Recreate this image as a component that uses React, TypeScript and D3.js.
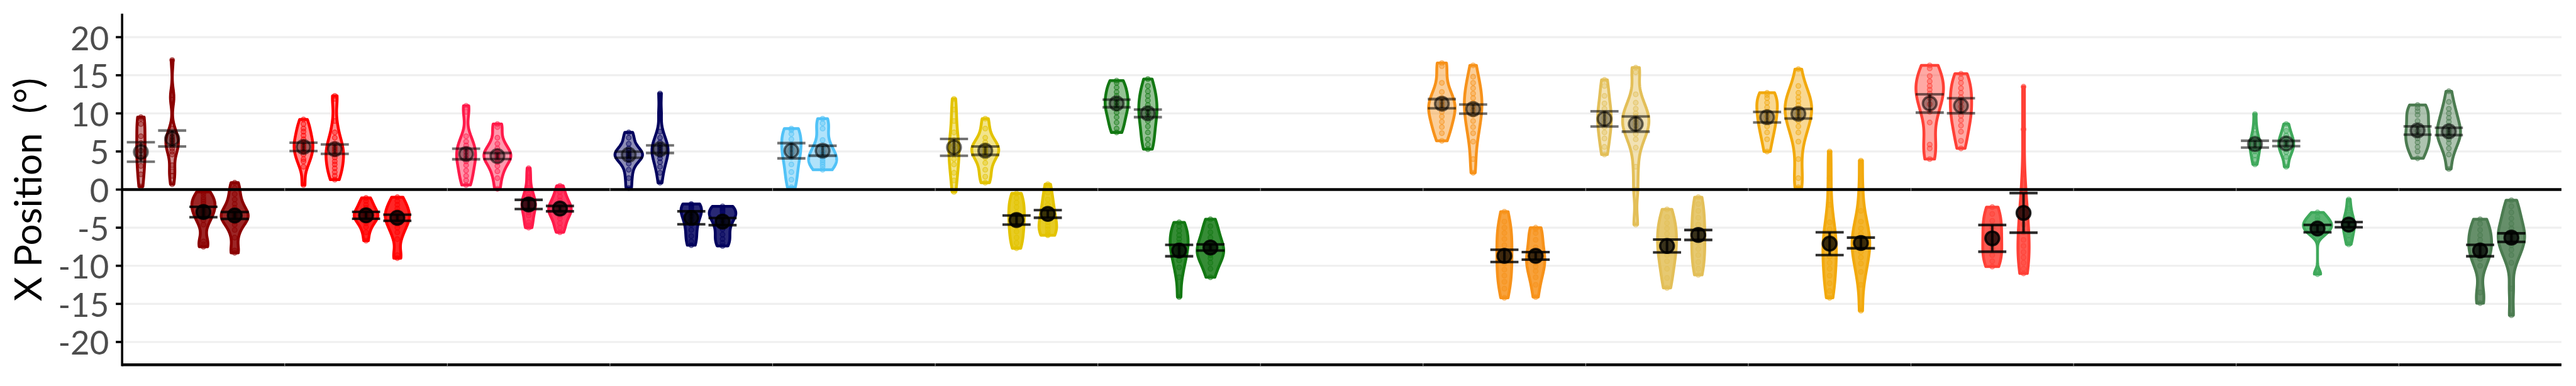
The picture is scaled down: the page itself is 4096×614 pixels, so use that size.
import React from 'react';
import * as d3 from 'd3';

// ---------- data ----------
const panels = ['P01','P02','P03','P04','P05','P06','P07','P08','P09','P10','P11','P12','P13','P14','P15'];
const slots = ['upA','upB','downA','downB','spare'];
const panelColors = ['#8B0000','#FF0000','#FF1A4A','#03035E','#50C2F7','#E3C300','#137813',null,'#F7921A','#E3BF58','#F2A90D','#FF4036',null,'#3FA95B','#4B7B50'];
const yTicks = [-20,-15,-10,-5,0,5,10,15,20];

const ptsP01 = [
  [9.5, 9.3, 8.6, 7.0, 6.1, 5.1, 4.2, 3.1, 2.0, 0.4],
  [17.0, 12.4, 11.8, 8.0, 7.3, 6.9, 6.6, 6.4, 6.1, 5.8, 5.4, 5.0, 4.6, 3.2, 2.4, 1.8, 0.7],
  [-0.3, -0.6, -1.0, -1.3, -1.6, -1.9, -2.2, -2.5, -2.8, -3.1, -3.5, -4.0, -4.6, -6.8, -7.2, -7.5],
  [0.9, 0.2, -0.6, -1.3, -1.9, -2.4, -2.8, -3.1, -3.3, -3.5, -3.7, -3.9, -4.2, -4.6, -5.3, -6.3, -8.0, -8.3],
];
const ptsP02 = [
  [9.2, 8.6, 8.0, 7.6, 7.1, 6.6, 6.2, 5.9, 5.6, 5.3, 5.0, 4.6, 4.0, 3.7, 3.0, 0.6],
  [12.3, 11.9, 9.0, 7.5, 6.8, 6.0, 5.6, 5.3, 5.0, 4.6, 4.2, 3.7, 3.3, 2.8, 2.3, 1.8, 1.3],
  [-1.1, -1.5, -2.0, -2.4, -2.7, -3.0, -3.2, -3.4, -3.6, -3.8, -4.1, -4.4, -4.9, -5.6, -6.7],
  [-1.0, -1.5, -2.0, -2.5, -2.9, -3.2, -3.5, -3.8, -4.1, -4.5, -5.0, -5.6, -6.5, -8.6, -9.0],
];
const ptsP03 = [
  [11.0, 10.2, 7.0, 6.3, 5.8, 5.3, 4.9, 4.5, 4.1, 3.7, 3.2, 2.5, 1.8, 1.2, 0.6],
  [8.6, 8.2, 6.8, 6.0, 5.4, 5.0, 4.7, 4.5, 4.3, 4.0, 3.6, 3.1, 2.4, 1.5, 0.1],
  [2.8, 1.6, 0.2, -0.6, -1.0, -1.4, -1.7, -2.0, -2.3, -2.6, -3.0, -3.4, -4.3, -4.7, -5.0],
  [0.5, -0.3, -0.9, -1.4, -1.8, -2.1, -2.4, -2.6, -2.8, -3.1, -3.4, -3.8, -4.4, -5.0, -5.6],
];
const ptsP04 = [
  [7.5, 6.8, 6.0, 5.4, 5.1, 4.8, 4.6, 4.4, 4.2, 3.9, 3.4, 2.6, 1.5, 0.2],
  [12.6, 10.0, 7.6, 6.8, 6.2, 5.8, 5.5, 5.2, 4.9, 4.5, 4.1, 3.6, 3.0, 2.2, 0.9],
  [-1.9, -2.0, -2.2, -2.4, -2.7, -3.1, -3.5, -4.0, -4.6, -5.3, -6.1, -6.8, -7.3],
  [-2.2, -2.4, -2.6, -2.8, -3.0, -3.3, -3.6, -4.0, -4.5, -5.2, -5.9, -6.5, -7.0, -7.4],
];
const ptsP05 = [
  [8.0, 7.8, 7.3, 6.6, 5.9, 5.3, 4.8, 4.2, 3.3, 2.3, 1.3, 0.3],
  [9.3, 8.7, 8.0, 6.5, 5.6, 5.0, 4.6, 4.2, 3.9, 3.6, 3.3, 3.0, 2.6],
  null,
  null,
];
const ptsP06 = [
  [11.9, 10.5, 9.0, 7.5, 6.5, 5.8, 5.2, 4.6, 4.0, 3.3, 2.2, 1.2, -0.3],
  [9.3, 8.0, 6.8, 6.2, 5.8, 5.5, 5.2, 4.9, 4.6, 4.2, 3.5, 2.6, 1.7, 0.9],
  [-0.5, -1.1, -1.7, -2.3, -3.0, -3.6, -4.2, -4.8, -5.5, -6.3, -7.0, -7.7],
  [0.7, -0.4, -1.3, -2.0, -2.7, -3.3, -3.8, -4.3, -4.8, -5.2, -5.6, -5.9, -6.0],
];
const ptsP07 = [
  [14.3, 14.0, 13.4, 12.8, 12.3, 11.8, 11.4, 11.0, 10.6, 10.1, 9.5, 8.8, 8.0, 7.5],
  [14.5, 13.6, 12.9, 12.3, 11.7, 11.1, 10.6, 10.1, 9.6, 9.0, 8.3, 7.5, 6.6, 5.9, 5.3],
  [-4.3, -4.8, -5.4, -6.0, -6.5, -7.0, -7.5, -8.0, -8.6, -9.3, -10.2, -11.5, -14.1],
  [-3.9, -4.8, -5.6, -6.3, -6.9, -7.4, -7.8, -8.2, -8.6, -9.0, -9.6, -10.4, -11.5],
];
const ptsP09 = [
  [16.6, 16.2, 14.0, 12.8, 12.0, 11.5, 11.1, 10.7, 10.2, 9.6, 8.9, 8.2, 7.4, 6.4],
  [16.3, 14.8, 14.0, 13.3, 12.6, 12.0, 11.4, 10.9, 10.4, 9.8, 9.0, 8.2, 7.4, 6.3, 4.0, 2.2],
  [-2.9, -4.2, -5.0, -5.7, -6.5, -7.3, -8.1, -8.9, -9.7, -10.5, -11.3, -12.1, -13.0, -14.2],
  [-5.0, -5.2, -5.7, -6.6, -7.6, -8.3, -8.8, -9.2, -9.6, -10.1, -10.7, -11.5, -12.5, -14.1],
];
const ptsP10 = [
  [14.4, 13.6, 12.3, 11.3, 10.6, 10.0, 9.4, 8.8, 8.2, 7.5, 6.7, 5.6, 4.6],
  [16.0, 15.4, 12.5, 11.4, 10.6, 10.0, 9.6, 9.2, 8.8, 8.4, 7.9, 7.3, 6.6, 5.5, 3.0, 0.0, -4.6],
  [-2.6, -3.6, -4.4, -5.1, -5.8, -6.5, -7.2, -7.9, -8.6, -9.4, -10.4, -11.6, -12.9],
  [-1.0, -1.9, -2.8, -3.7, -4.6, -5.4, -6.2, -7.0, -7.8, -8.6, -9.5, -10.4, -11.2],
];
const ptsP11 = [
  [12.7, 12.4, 12.0, 11.4, 10.8, 10.2, 9.6, 9.0, 8.3, 7.5, 6.6, 5.0],
  [15.8, 13.6, 12.7, 12.1, 11.6, 11.1, 10.6, 10.1, 9.6, 9.0, 8.3, 7.5, 6.3, 4.0, 1.5, 0.3],
  [5.0, 1.5, -2.0, -4.3, -5.2, -6.0, -6.7, -7.4, -8.1, -8.8, -9.6, -10.4, -11.3, -12.3, -13.3, -14.2],
  [3.8, 0.0, -2.8, -4.2, -5.1, -5.8, -6.4, -7.0, -7.6, -8.2, -8.9, -9.7, -10.8, -12.5, -15.9],
];
const ptsP12 = [
  [16.3, 15.9, 14.9, 14.2, 13.6, 13.1, 12.6, 12.0, 11.2, 10.2, 8.8, 5.9, 5.4, 4.0],
  [15.2, 14.6, 14.0, 13.3, 12.7, 12.1, 11.5, 10.9, 10.3, 9.7, 9.1, 8.4, 7.6, 6.4, 5.4],
  [-2.3, -3.2, -4.1, -5.0, -5.9, -6.8, -7.7, -8.6, -9.4, -10.1],
  [13.5, 7.9, 2.0, -1.0, -2.5, -3.6, -4.6, -5.6, -6.6, -7.4, -8.2, -8.9, -9.6, -10.4, -11.0],
];
const ptsP14 = [
  [9.9, 8.3, 7.3, 6.7, 6.3, 6.0, 5.7, 5.4, 5.0, 4.5, 3.9, 3.3],
  [8.6, 7.7, 7.1, 6.7, 6.3, 6.0, 5.7, 5.3, 4.9, 4.3, 3.0],
  [-3.0, -3.6, -4.0, -4.3, -4.6, -4.9, -5.2, -5.5, -6.0, -11.1],
  [-1.3, -2.5, -3.3, -3.8, -4.2, -4.5, -4.8, -5.1, -5.5, -6.0, -6.6, -7.2],
];
const ptsP15 = [
  [11.1, 10.7, 10.3, 9.8, 9.0, 8.3, 7.7, 7.2, 6.7, 6.2, 5.6, 5.0, 4.1],
  [12.9, 11.5, 10.6, 10.0, 9.4, 8.9, 8.4, 7.9, 7.6, 7.3, 7.0, 6.6, 6.1, 5.4, 4.6, 2.7],
  [-3.9, -4.5, -5.3, -6.0, -6.6, -7.2, -7.8, -8.4, -9.1, -10.0, -13.5, -14.9],
  [-1.4, -2.2, -3.0, -3.8, -4.5, -5.1, -5.6, -6.0, -6.4, -6.8, -7.3, -7.9, -8.6, -9.6, -13.0, -16.5],
];
const panelPoints = [ptsP01, ptsP02, ptsP03, ptsP04, ptsP05, ptsP06, ptsP07, null, ptsP09, ptsP10, ptsP11, ptsP12, null, ptsP14, ptsP15];

// number of trials behind each violin (violins are scaled by count)
const groupN = [
  [15, 14, 22, 26],
  [20, 23, 16, 24],
  [24, 25, 13, 18],
  [20, 17, 18, 22],
  [26, 27, null, null],
  [17, 26, 21, 19],
  [27, 28, 23, 29],
  null,
  [37, 32, 30, 26],
  [21, 42, 32, 25],
  [26, 45, 30, 33],
  [48, 35, 30, 27],
  null,
  [8, 11, 16, 9],
  [31, 28, 32, 39],
];

const panelMeans = [
  [4.93, 6.7, -2.95, -3.4],
  [5.6, 5.3, -3.38, -3.7],
  [4.67, 4.4, -1.95, -2.5],
  [4.57, 5.3, -3.7, -4.2],
  [5.1, 5.1, null, null],
  [5.54, 5.1, -4.0, -3.2],
  [11.3, 10.0, -8.0, -7.6],
  null,
  [11.27, 10.56, -8.7, -8.7],
  [9.27, 8.6, -7.4, -5.96],
  [9.5, 9.95, -7.1, -7.0],
  [11.3, 11.0, -6.4, -3.06],
  null,
  [5.96, 6.04, -5.12, -4.6],
  [7.75, 7.63, -8.0, -6.3],
];
const panelSE = [
  [1.28, 1.05, 0.68, 0.45],
  [0.55, 0.62, 0.45, 0.4],
  [0.7, 0.4, 0.6, 0.35],
  [0.4, 0.5, 0.85, 0.47],
  [1.0, 0.65, null, null],
  [1.1, 0.55, 0.6, 0.5],
  [0.5, 0.5, 0.75, 0.4],
  null,
  [0.6, 0.6, 0.8, 0.5],
  [1.0, 1.0, 0.85, 0.65],
  [0.69, 0.63, 1.5, 0.7],
  [1.2, 0.98, 1.75, 2.6],
  null,
  [0.45, 0.35, 0.48, 0.34],
  [0.55, 0.48, 0.75, 0.56],
];

// ---------- helpers ----------
function bwNrd0(v: number[]) {
  const s = [...v].sort((a, b) => a - b);
  const n = s.length;
  const sd = d3.deviation(s) || 0;
  const iqr = (d3.quantileSorted(s, 0.75) as number) - (d3.quantileSorted(s, 0.25) as number);
  let lo = Math.min(sd, iqr / 1.34);
  if (!lo) lo = sd || Math.abs(s[0]) || 1;
  return 0.9 * lo * Math.pow(n, -0.2);
}
function kde(v: number[]) {
  const bw = bwNrd0(v);
  const [lo, hi] = d3.extent(v) as [number, number];
  const N = 160;
  const out: { v: number; d: number }[] = [];
  for (let i = 0; i <= N; i++) {
    const yv = lo + ((hi - lo) * i) / N;
    let s = 0;
    for (const x of v) {
      const z = (yv - x) / bw;
      s += Math.exp(-0.5 * z * z);
    }
    out.push({ v: yv, d: s / (v.length * bw * Math.sqrt(2 * Math.PI)) });
  }
  return out;
}

export default function App() {
  const W = 4500, H = 675;
  const left = 212, right = 4476, top = 25, bottom = 638;

  const x = d3.scaleBand<string>().domain(panels).range([left, right]).paddingInner(0).paddingOuter(0);
  const xs = d3.scalePoint<string>().domain(slots).range([0, x.bandwidth()]).padding(0.6);
  const y = d3.scaleLinear().domain([-23, 23]).range([bottom, top]);
  const step = xs.step();

  type Vio = { color: string; dens: { v: number; d: number }[]; pts: number[]; mean: number; se: number; cx: number; up: boolean };
  const vios: Vio[] = [];
  panels.forEach((p, pi) => {
    const pp = panelPoints[pi];
    if (!pp) return;
    pp.forEach((pts, si) => {
      if (!pts) return;
      const n = (groupN[pi] as (number | null)[])[si] as number;
      const mean = (panelMeans[pi] as (number | null)[])[si] as number;
      const se = (panelSE[pi] as (number | null)[])[si] as number;
      const dens = kde(pts).map((d) => ({ v: d.v, d: d.d * n }));
      vios.push({
        color: panelColors[pi] as string, dens, pts, mean, se,
        cx: (x(p) as number) + (xs(slots[si]) as number), up: si < 2,
      });
    });
  });
  const gMax = d3.max(vios, (v) => d3.max(v.dens, (d) => d.d) as number) as number;
  const wScale = d3.scaleLinear().domain([0, gMax]).range([0, 0.45 * step]);

  const boundaries = panels.slice(1).map((p) => x(p) as number);

  return (
    <svg width={4096} height={614} viewBox={`0 0 ${W} ${H}`} style={{ position: 'absolute', left: 0, top: 0 }}>
      <rect x={0} y={0} width={W} height={H} fill="#fff" />
      {/* grid */}
      {yTicks.filter((t) => t !== 0).map((t) => (
        <line key={'g' + t} x1={left} x2={right} y1={y(t)} y2={y(t)} stroke="#EFEFEF" strokeWidth={3.5} />
      ))}
      {/* violins */}
      {vios.map((v, i) => {
        const area = d3.area<{ v: number; d: number }>()
          .x0((d) => v.cx - wScale(d.d))
          .x1((d) => v.cx + wScale(d.d))
          .y((d) => y(d.v));
        return (
          <path key={'v' + i} d={area(v.dens) as string} fill={v.color} fillOpacity={v.up ? 0.45 : 0.85}
            stroke={v.color} strokeWidth={5} strokeLinejoin="round" />
        );
      })}
      {/* raw points */}
      {vios.map((v, i) => (
        <g key={'p' + i}>
          {v.pts.map((p, j) => (
            <circle key={j} cx={v.cx} cy={y(p)} r={4.2} fill={v.color} fillOpacity={0.35}
              stroke={v.color} strokeOpacity={0.6} strokeWidth={1.6} />
          ))}
        </g>
      ))}
      {/* zero line */}
      <line x1={left} x2={right} y1={y(0)} y2={y(0)} stroke="#000" strokeWidth={5} />
      {/* error bars and means */}
      {vios.map((v, i) => {
        const col = v.up ? 'rgba(0,0,0,0.55)' : 'rgba(0,0,0,0.82)';
        const hw = 0.45 * step;
        return (
          <g key={'e' + i}>
            <line x1={v.cx} x2={v.cx} y1={y(v.mean + v.se)} y2={y(v.mean - v.se)} stroke={col} strokeWidth={4.5} />
            <line x1={v.cx - hw} x2={v.cx + hw} y1={y(v.mean + v.se)} y2={y(v.mean + v.se)} stroke={col} strokeWidth={4.5} />
            <line x1={v.cx - hw} x2={v.cx + hw} y1={y(v.mean - v.se)} y2={y(v.mean - v.se)} stroke={col} strokeWidth={4.5} />
            <circle cx={v.cx} cy={y(v.mean)} r={12} fill={v.up ? 'rgba(0,0,0,0.35)' : 'rgba(0,0,0,0.75)'}
              stroke={v.up ? 'rgba(0,0,0,0.55)' : 'rgba(0,0,0,0.85)'} strokeWidth={4} />
          </g>
        );
      })}
      {/* axes */}
      <line x1={left} x2={right} y1={bottom} y2={bottom} stroke="#000" strokeWidth={5} />
      <line x1={left} x2={left} y1={top - 1} y2={bottom + 2.5} stroke="#000" strokeWidth={4} />
      {boundaries.map((b, i) => (
        <g key={'b' + i}>
          <line x1={b} x2={b} y1={y(0) - 2.5} y2={y(0) + 2.5} stroke="#9a9a9a" strokeWidth={1.3} />
          <line x1={b} x2={b} y1={bottom - 2.5} y2={bottom + 2.5} stroke="#9a9a9a" strokeWidth={1.3} />
        </g>
      ))}
      {yTicks.map((t) => (
        <g key={'t' + t}>
          <line x1={left - 11} x2={left} y1={y(t)} y2={y(t)} stroke="#000" strokeWidth={4} />
          <text x={189} y={y(t)} textAnchor="end" dominantBaseline="central" fontFamily="Lato" fontSize={58} fill="#4D4D4D">
            {String(t)}
          </text>
        </g>
      ))}
      <text transform={`translate(71,${(top + bottom) / 2}) rotate(-90)`} textAnchor="middle" fontFamily="Lato"
        fontSize={66} fill="#000" style={{ whiteSpace: 'pre' }}>
        {'X Position  (°)'}
      </text>
    </svg>
  );
}
